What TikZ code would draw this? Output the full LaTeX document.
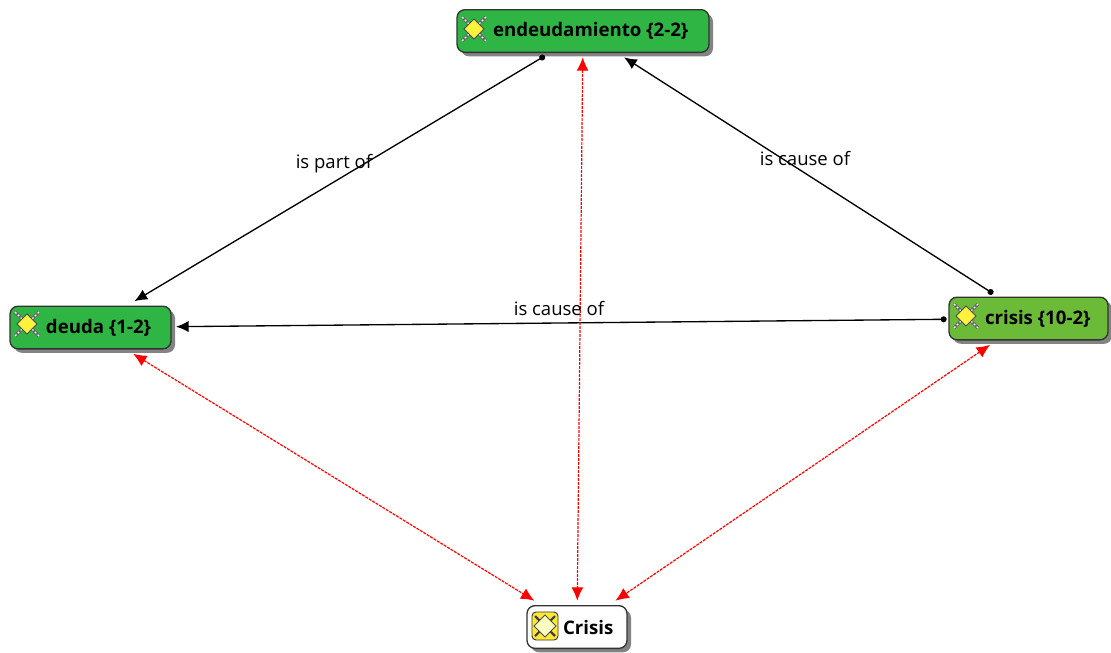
\documentclass[tikz,border=0pt]{standalone}
\usepackage{fontspec}
\setmainfont{Open Sans}
\usetikzlibrary{arrows.meta,shadows}
\definecolor{codegreen}{HTML}{2EB543}
\definecolor{codelime}{HTML}{6BBA38}
\definecolor{gemyellow}{HTML}{FFF23C}
\tikzset{
  concept/.style={draw=black!80,line width=1pt,rounded corners=6pt,text width=#1,
    minimum height=32pt,inner xsep=0pt,inner ysep=0pt,outer sep=3.75pt,align=flush left,
    font=\fontsize{14}{16}\selectfont\bfseries,execute at begin node=\hspace*{27pt},
    drop shadow={shadow xshift=3pt,shadow yshift=-3pt,fill=black!75,opacity=0.65}},
  relation/.style={draw=black,line width=1pt,shorten <=-2pt,{Circle[length=4.5pt]}-{Latex[length=9.5pt,width=8.5pt]}},
  cooccur/.style={draw=red,line width=0.9pt,dash pattern=on 2.2pt off 0.8pt,
    {Latex[length=10pt,width=9pt]}-{Latex[length=10pt,width=9pt]}},
  linklabel/.style={font=\fontsize{13.9}{16}\selectfont,inner sep=0pt},
  gemmark/.pic={
    \draw[black!60,line width=2.2pt] (-12,-12) -- (12,12) (-12,12) -- (12,-12);
    \draw[white,line width=1pt,dash pattern=on 1.5pt off 1.5pt] (-12,-12) -- (12,12) (-12,12) -- (12,-12);
    \draw[black!70,fill=gemyellow,line width=0.6pt] (-10,0) -- (0,-10) -- (10,0) -- (0,10) -- cycle;
  },
  codemark/.pic={
    \draw[black!80,fill=gemyellow!90!orange,line width=0.7pt,rounded corners=3pt] (-13,-14) rectangle (13,14);
    \draw[black!75,line width=1.6pt] (-10,-10) -- (10,10) (-10,10) -- (10,-10);
    \draw[black!70,fill=yellow!25,line width=0.6pt] (-11,0) -- (0,-11) -- (11,0) -- (0,11) -- cycle;
  }
}
\begin{document}
\begin{tikzpicture}[x=0.75pt,y=-0.75pt]
  \useasboundingbox (0,0) rectangle (1111,653);
  % concepts
  \node[concept=189pt,fill=codegreen] (endeudamiento) at (583,31) {endeudamiento \{2-2\}};
  \node[concept=120.75pt,fill=codegreen] (deuda) at (90.5,327.5) {deuda \{1-2\}};
  \node[concept=119.25pt,fill=codelime] (crisis) at (1028.5,318.5) {crisis \{10-2\}};
  \node[concept=75pt,fill=white] (Crisis) at (577,627) {Crisis};
  % icons
  \pic at (474,29) {gemmark};
  \pic at (27,324) {gemmark};
  \pic at (966,316) {gemmark};
  \pic at (545,626) {codemark};
  % links
  \draw[relation] (endeudamiento.-147) -- (deuda);
  \draw[relation] (crisis.145) -- (endeudamiento);
  \draw[relation] (crisis) -- (deuda);
  \draw[cooccur] (deuda) -- (Crisis);
  \draw[cooccur] (endeudamiento) -- (Crisis);
  \draw[cooccur] (crisis) -- (Crisis);
  % link labels
  \node[linklabel] (partof) at (334,164) {is part of};
  \node[linklabel] (causeup) at (805,158) {is cause of};
  \node[linklabel] (causeacross) at (559,308) {is cause of};
\end{tikzpicture}
\end{document}
